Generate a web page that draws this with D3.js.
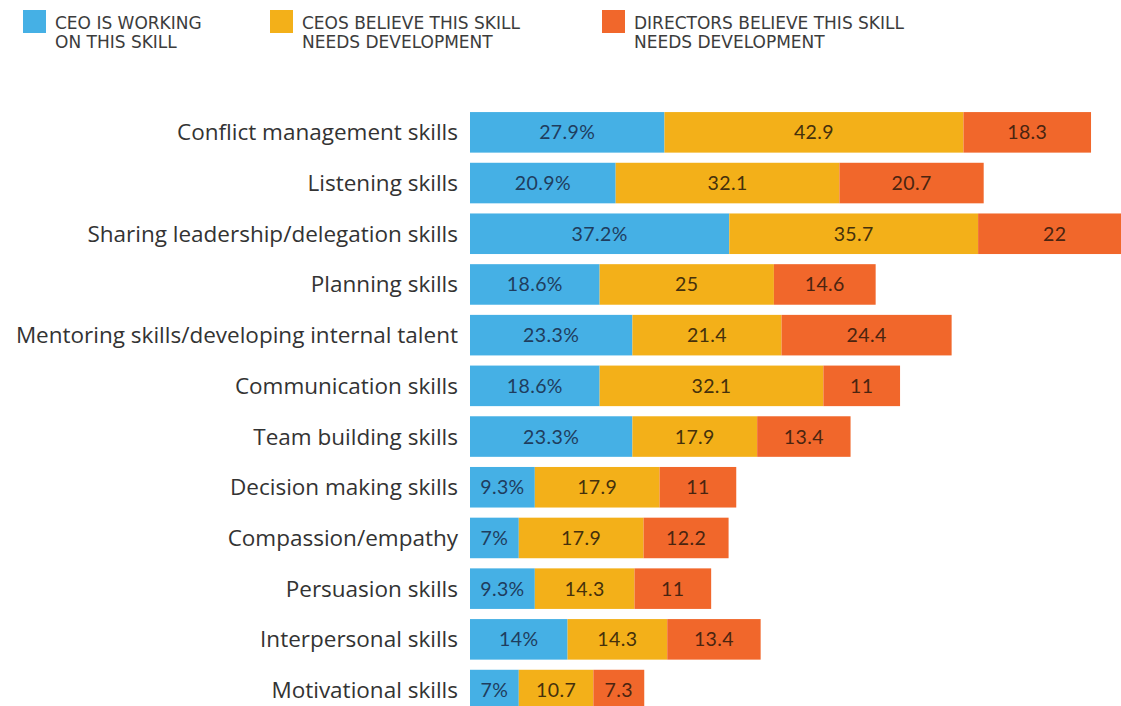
<!DOCTYPE html>
<html>
<head>
<meta charset="utf-8">
<script src="https://cdn.jsdelivr.net/npm/d3@7"></script>
<style>
  body { margin: 0; background: #fff; }
  svg { display: block; }
</style>
</head>
<body>
<svg id="chart" width="1121" height="706"></svg>
<script>
  // data
  var skills = [
    "Conflict management skills",
    "Listening skills",
    "Sharing leadership/delegation skills",
    "Planning skills",
    "Mentoring skills/developing internal talent",
    "Communication skills",
    "Team building skills",
    "Decision making skills",
    "Compassion/empathy",
    "Persuasion skills",
    "Interpersonal skills",
    "Motivational skills"
  ];
  var ceo_working     = [27.9, 20.9, 37.2, 18.6, 23.3, 18.6, 23.3, 9.3, 7, 9.3, 14, 7];
  var ceos_believe    = [42.9, 32.1, 35.7, 25, 21.4, 32.1, 17.9, 17.9, 17.9, 14.3, 14.3, 10.7];
  var directors_believe = [18.3, 20.7, 22, 14.6, 24.4, 11, 13.4, 11, 12.2, 11, 13.4, 7.3];

  var series_keys = ["ceo", "ceos", "dirs"];
  var legend_lines = [
    ["CEO IS WORKING", "ON THIS SKILL"],
    ["CEOS BELIEVE THIS SKILL", "NEEDS DEVELOPMENT"],
    ["DIRECTORS BELIEVE THIS SKILL", "NEEDS DEVELOPMENT"]
  ];
  var colors = ["#45b0e5", "#f3b019", "#f1672b"];
  var text_colors = ["#1f3d5e", "#45300c", "#4a2410"];

  var rows = [];
  for (var i = 0; i < skills.length; i++) {
    rows.push({skill: skills[i], ceo: ceo_working[i], ceos: ceos_believe[i], dirs: directors_believe[i]});
  }

  var svg = d3.select("#chart");

  var x = d3.scaleLinear().domain([0, 100]).range([470, 1167]);
  var y = d3.scaleBand().domain(skills).range([107, 715.4]).paddingInner(0.2).paddingOuter(0.1);

  var stacked = d3.stack().keys(series_keys)(rows);

  var layers = svg.selectAll("g.layer").data(stacked).enter().append("g")
    .attr("class", "layer")
    .attr("fill", function(d, i){ return colors[i]; });

  layers.selectAll("rect").data(function(d){ return d; }).enter().append("rect")
    .attr("x", function(d){ return x(d[0]); })
    .attr("y", function(d){ return y(d.data.skill); })
    .attr("width", function(d){ return x(d[1]) - x(d[0]); })
    .attr("height", y.bandwidth());

  // value labels
  stacked.forEach(function(layer, li){
    svg.append("g").selectAll("text").data(layer).enter().append("text")
      .attr("x", function(d){ return (x(d[0]) + x(d[1])) / 2; })
      .attr("y", function(d){ return y(d.data.skill) + y.bandwidth() / 2 + 7; })
      .attr("text-anchor", "middle")
      .style("font-family", "Lato, 'Open Sans', sans-serif")
      .style("font-size", "19.5px")
      .style("letter-spacing", "0.4px")
      .style("fill", text_colors[li])
      .text(function(d){
        var v = d.data[layer.key];
        return li == 0 ? v + "%" : v;
      });
  });

  // category labels
  svg.append("g").selectAll("text").data(skills).enter().append("text")
    .attr("x", 458)
    .attr("y", function(d){ return y(d) + y.bandwidth() / 2 + 8; })
    .attr("text-anchor", "end")
    .style("font-family", "'Open Sans', sans-serif")
    .style("font-size", "22.5px")
    .style("fill", "#333")
    .text(function(d){ return d; });

  // legend
  var legend_x = [23, 270, 602];
  var leg = svg.append("g").selectAll("g").data(legend_lines).enter().append("g")
    .attr("transform", function(d, i){ return "translate(" + legend_x[i] + ",0)"; });
  leg.append("rect").attr("x", 0).attr("y", 10).attr("width", 23).attr("height", 23)
    .attr("fill", function(d, i){ return colors[i]; });
  leg.append("text")
    .style("font-family", "'DejaVu Sans', sans-serif")
    .style("font-size", "17px")
    .style("fill", "#3c3c3c")
    .selectAll("tspan").data(function(d){ return d; }).enter().append("tspan")
    .attr("x", 32)
    .attr("y", function(d, i){ return 29 + i * 19; })
    .text(function(d){ return d; });
</script>
</body>
</html>
